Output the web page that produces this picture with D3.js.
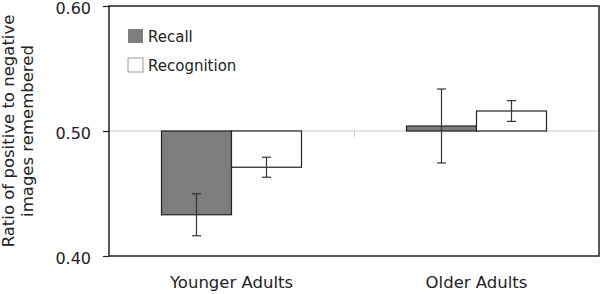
<!DOCTYPE html>
<html>
<head>
<meta charset="utf-8">
<script src="https://cdn.jsdelivr.net/npm/d3@7"></script>
<style>
  body { margin: 0; background: #fff; }
  text { font-family: "DejaVu Sans", sans-serif; fill: #222; }
</style>
</head>
<body>
<div id="chart"></div>
<script>
// Data.
const groups = ["Younger Adults", "Older Adults"];
const keys = ["Recall", "Recognition"];
const means = [[0.433, 0.471], [0.504, 0.516]];
const errors = [[0.0168, 0.008], [0.0296, 0.0083]];
const yTicks = [0.40, 0.50, 0.60];
const baseline = 0.5;

// Chart dimensions.
const width = 600;
const height = 294;
const marginTop = 6;
const marginRight = 1;
const marginBottom = 38;
const marginLeft = 109;

const fills = { Recall: "#7d7d7d", Recognition: "#ffffff" };

// Scales.
const x0 = d3.scaleBand()
  .domain(groups)
  .range([marginLeft, width - marginRight])
  .padding(0);

const x1 = d3.scaleBand()
  .domain(keys)
  .range([0, x0.bandwidth()])
  .paddingInner(0)
  .paddingOuter(0.75);

const y = d3.scaleLinear()
  .domain([0.40, 0.60])
  .range([height - marginBottom, marginTop]);

const svg = d3.select("#chart").append("svg")
  .attr("width", width)
  .attr("height", height)
  .attr("viewBox", [0, 0, width, height]);

// Reference line at 0.50 with a category separator tick.
svg.append("line")
  .attr("x1", marginLeft).attr("x2", width - marginRight)
  .attr("y1", y(baseline)).attr("y2", y(baseline))
  .attr("stroke", "#c8c8c8");

svg.append("g")
  .selectAll("line")
  .data(groups.slice(1))
  .join("line")
  .attr("x1", d => Math.round(x0(d)) + 0.5)
  .attr("x2", d => Math.round(x0(d)) + 0.5)
  .attr("y1", y(baseline))
  .attr("y2", y(baseline) + 6)
  .attr("stroke", "#c8c8c8");

// Bars hang from the 0.50 baseline.
const rows = groups.flatMap((g, i) => keys.map((k, j) => ({
  group: g, key: k, value: means[i][j], err: errors[i][j]
})));

svg.append("g")
  .selectAll("rect")
  .data(rows)
  .join("rect")
  .attr("x", d => x0(d.group) + x1(d.key))
  .attr("width", x1.bandwidth())
  .attr("y", d => y(Math.max(d.value, baseline)))
  .attr("height", d => Math.abs(y(d.value) - y(baseline)))
  .attr("fill", d => fills[d.key])
  .attr("stroke", "#222")
  .attr("stroke-width", 1.2);

// Error bars.
const eb = svg.append("g")
  .attr("stroke", "#333")
  .attr("stroke-width", 1.2)
  .selectAll("g")
  .data(rows)
  .join("g")
  .attr("transform", d => `translate(${x0(d.group) + x1(d.key) + x1.bandwidth() / 2},0)`);

eb.append("line")
  .attr("y1", d => y(d.value - d.err))
  .attr("y2", d => y(d.value + d.err));

eb.selectAll(".cap")
  .data(d => [d.value - d.err, d.value + d.err])
  .join("line")
  .attr("x1", -4.5).attr("x2", 4.5)
  .attr("y1", d => y(d)).attr("y2", d => y(d));

// Plot frame.
svg.append("rect")
  .attr("x", marginLeft)
  .attr("y", marginTop)
  .attr("width", width - marginLeft - marginRight)
  .attr("height", height - marginTop - marginBottom)
  .attr("fill", "none")
  .attr("stroke", "#222")
  .attr("stroke-width", 1.5);

// Y axis.
svg.append("g")
  .attr("transform", `translate(${marginLeft},0)`)
  .call(d3.axisLeft(y).tickValues(yTicks).tickFormat(d3.format(".2f")).tickSize(6).tickPadding(12))
  .call(g => g.select(".domain").remove())
  .call(g => g.selectAll(".tick line").attr("stroke", "#222").attr("stroke-width", 1.2))
  .call(g => g.selectAll(".tick text")
    .attr("font-size", 16)
    .attr("font-family", "DejaVu Sans")
    .attr("dy", 7)
    .attr("fill", "#222"));

// X axis labels.
svg.append("g")
  .attr("transform", `translate(0,${height - marginBottom})`)
  .call(d3.axisBottom(x0).tickSize(0).tickPadding(20))
  .call(g => g.select(".domain").remove())
  .call(g => g.selectAll(".tick text")
    .attr("font-size", 16.5)
    .attr("font-family", "DejaVu Sans")
    .attr("fill", "#222"));

// Y axis title.
svg.append("text")
  .attr("transform", `translate(14,${y(baseline)}) rotate(-90)`)
  .attr("text-anchor", "middle")
  .attr("font-size", 16.5)
  .selectAll("tspan")
  .data(["Ratio of positive to negative", "images remembered"])
  .join("tspan")
  .attr("x", 0)
  .attr("dy", (d, i) => i ? 19 : 0)
  .text(d => d);

// Legend.
const legend = svg.append("g")
  .attr("transform", `translate(128,29)`)
  .selectAll("g")
  .data(keys)
  .join("g")
  .attr("transform", (d, i) => `translate(0,${i * 29})`);

legend.append("rect")
  .attr("width", 15)
  .attr("height", 14)
  .attr("fill", d => fills[d])
  .attr("stroke", d => d === "Recall" ? "none" : "#999");

legend.append("text")
  .attr("x", 20)
  .attr("y", 13)
  .attr("font-size", 15)
  .text(d => d);
</script>
</body>
</html>
